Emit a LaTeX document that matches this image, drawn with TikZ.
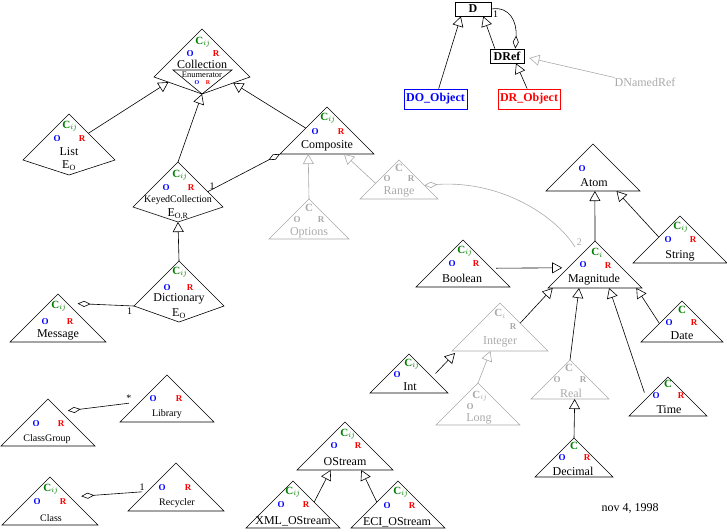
\documentclass[tikz,border=0pt]{standalone}
\usepackage{fontspec}
\setmainfont{Liberation Serif}
\usetikzlibrary{arrows.meta, calc}
\definecolor{cgreen}{RGB}{0,128,0}
\definecolor{oblue}{RGB}{0,0,255}
\definecolor{rred}{RGB}{255,0,0}
\definecolor{ghostgray}{RGB}{170,170,170}
\tikzset{
  tri/.style={draw=black, line width=0.6pt},
  gtri/.style={draw=ghostgray, line width=0.6pt},
  cname/.style={inner sep=0pt, font=\fontsize{12}{12}\selectfont},
  sname/.style={inner sep=0pt, font=\fontsize{10}{10}\selectfont},
  tname/.style={inner sep=0pt, font=\fontsize{8.5}{8.5}\selectfont},
  cmark/.style={inner sep=0pt, text=cgreen, font=\fontsize{11}{11}\selectfont\bfseries},
  omark/.style={inner sep=0pt, text=oblue, font=\fontsize{9}{9}\selectfont\bfseries},
  rmark/.style={inner sep=0pt, text=rred, font=\fontsize{9}{9}\selectfont\bfseries},
  faded/.style={text=ghostgray},
  objbox/.style={rectangle, draw, line width=0.8pt, inner sep=0pt,
    minimum height=14, font=\fontsize{12}{12}\selectfont\bfseries},
  inherit/.style={-{Triangle[open, length=10pt, width=11pt]}, line width=0.6pt},
  aggr/.style={{Diamond[open, length=13pt, width=6pt]}-, line width=0.6pt},
  aggrend/.style={-{Diamond[open, length=13pt, width=6pt]}, line width=0.6pt},
  mult/.style={inner sep=1.5pt, font=\fontsize{10}{10}\selectfont}
}
% class triangle: style, name, apex x, apex y, size
\newcommand{\clstri}[5][tri]{\draw[#1] (#3,#4) coordinate (#2-top) -- ++(-#5,#5) coordinate (#2-lft) -- ++(2*#5,0) coordinate (#2-rgt) -- cycle;}
% class kite (triangle with a keyed bottom): style, name, apex x, apex y, size, drop
\newcommand{\clskite}[6][tri]{\draw[#1] (#3,#4) coordinate (#2-top) -- ++(-#5,#5) coordinate (#2-lft) -- ++(#5,#6) coordinate (#2-bot) -- ++(#5,-#6) coordinate (#2-rgt) -- cycle;}
\newcommand{\Cij}{C$_{ij}$}
\newcommand{\Ci}{C$_{i}$}

\begin{document}
\begin{tikzpicture}[x=1pt, y=-1pt]
  \useasboundingbox (0,0) rectangle (727,531);

  % Collection
  \clskite{coll}{202}{29}{48}{17}
  \draw[tri] (173,70) coordinate (enum-lft) -- (232,70) coordinate (enum-rgt) -- (coll-bot) -- cycle;
  \node[cmark] (coll-c) at (203,42) {\Cij};
  \node[omark] (coll-o) at (190,54) {O};
  \node[rmark] (coll-r) at (216,54) {R};
  \node[cname] (coll) at (202,64) {Collection};
  \node[tname] (enum) at (202,75) {Enumerator};
  \node[omark, font=\fontsize{6}{6}\selectfont\bfseries] (enum-o) at (197,82.5) {O};
  \node[rmark, font=\fontsize{6}{6}\selectfont\bfseries] (enum-r) at (208,82.5) {R};

  % List
  \clskite{list}{69}{114}{46}{15}
  \node[cmark] (list-c) at (70,126) {\Cij};
  \node[omark] (list-o) at (57,139) {O};
  \node[rmark] (list-r) at (82,139) {R};
  \node[cname] (list) at (69,152) {List};
  \node[cname] (list-e) at (69,166) {E\textsubscript{O}};

  % KeyedCollection
  \clskite{kc}{178}{162}{45}{15}
  \node[cmark] (kc-c) at (180,175) {\Cij};
  \node[omark] (kc-o) at (166,188) {O};
  \node[rmark] (kc-r) at (191,188) {R};
  \node[sname] (kc) at (178,200) {KeyedCollection};
  \node[cname] (kc-e) at (178,214) {E\textsubscript{O,R}};

  % Dictionary
  \clskite{dict}{179}{261}{45}{16}
  \node[cmark] (dict-c) at (180,272) {\Cij};
  \node[omark] (dict-o) at (167,288) {O};
  \node[rmark] (dict-r) at (190,288) {R};
  \node[cname] (dict) at (179,299) {Dictionary};
  \node[cname] (dict-e) at (179,314) {E\textsubscript{O}};

  % Composite, Options, Range
  \clstri{comp}{327}{107}{47}
  \node[cmark] (comp-c) at (328,118) {\Cij};
  \node[omark] (comp-o) at (315,132) {O};
  \node[rmark] (comp-r) at (341,132) {R};
  \node[cname] (comp) at (327,146) {Composite};

  \clstri[gtri]{opt}{309}{199}{40}
  \node[cmark, faded] (opt-c) at (309,208) {C};
  \node[omark, faded] (opt-o) at (297,220) {O};
  \node[rmark, faded] (opt-r) at (321,220) {R};
  \node[cname, faded] (opt) at (309,233) {Options};

  \clstri[gtri]{rng}{399}{160}{39}
  \node[cmark, faded] (rng-c) at (399,168) {C};
  \node[omark, faded] (rng-o) at (387,179) {O};
  \node[rmark, faded] (rng-r) at (411,179) {R};
  \node[cname, faded] (rng) at (399,192) {Range};

  % Message
  \clstri{msg}{58}{294}{48}
  \node[cmark] (msg-c) at (59,306) {\Cij};
  \node[omark] (msg-o) at (45,322) {O};
  \node[rmark] (msg-r) at (70,322) {R};
  \node[cname] (msg) at (58,335) {Message};

  % ClassGroup, Library, Class, Recycler
  \clstri{cg}{48}{399}{47}
  \node[omark] (cg-o) at (36,424) {O};
  \node[rmark] (cg-r) at (61,424) {R};
  \node[sname] (cg) at (47,439) {ClassGroup};

  \clstri{lib}{167}{375}{47}
  \node[omark] (lib-o) at (153,399) {O};
  \node[rmark] (lib-r) at (179,399) {R};
  \node[sname] (lib) at (167,414) {Library};

  \clstri{class}{50}{477}{48}
  \node[cmark] (class-c) at (51,489) {\Cij};
  \node[omark] (class-o) at (37,502) {O};
  \node[rmark] (class-r) at (63,502) {R};
  \node[sname] (class) at (51,518) {Class};

  \clstri{rec}{176}{463}{48}
  \node[omark] (rec-o) at (162,488) {O};
  \node[rmark] (rec-r) at (188,488) {R};
  \node[sname] (rec) at (177,503) {Recycler};

  % OStream
  \clstri{os}{345}{422}{48}
  \node[cmark] (os-c) at (348,434) {\Cij};
  \node[omark] (os-o) at (334,446) {O};
  \node[rmark] (os-r) at (358,446) {R};
  \node[cname] (os) at (345,462) {OStream};

  \clstri{xml}{293}{481}{47}
  \node[cmark] (xml-c) at (293,492) {\Cij};
  \node[omark] (xml-o) at (281,505) {O};
  \node[rmark] (xml-r) at (306,505) {R};
  \node[cname] (xml) at (293,521) {XML\_OStream};

  \clstri{eci}{398}{481}{47}
  \node[cmark] (eci-c) at (401,492) {\Cij};
  \node[omark] (eci-o) at (387,506) {O};
  \node[rmark] (eci-r) at (412,506) {R};
  \node[cname] (eci) at (397,522) {ECI\_OStream};

  % Magnitude family
  \clstri{atom}{593}{144}{47}
  \node[omark] (atom-o) at (582,169) {O};
  \node[cname] (atom) at (594,183) {Atom};

  \clstri{mag}{595}{241}{47}
  \node[cmark] (mag-c) at (597,253) {\Ci};
  \node[omark] (mag-o) at (583,265) {O};
  \node[rmark] (mag-r) at (608,266) {R};
  \node[cname] (mag) at (594,280) {Magnitude};

  \clstri{str}{680}{216}{47}
  \node[cmark] (str-c) at (681,227) {\Cij};
  \node[omark] (str-o) at (668,240) {O};
  \node[rmark] (str-r) at (693,240) {R};
  \node[cname] (str) at (680,256) {String};

  \clstri{bool}{463}{240}{47}
  \node[cmark] (bool-c) at (465,251) {\Cij};
  \node[omark] (bool-o) at (452,264) {O};
  \node[rmark] (bool-r) at (476,264) {R};
  \node[cname] (bool) at (462,278) {Boolean};

  \clstri{int}{409}{354}{39}
  \node[cmark] (int-c) at (412,364) {\Cij};
  \node[omark] (int-o) at (397,375) {O};
  \node[cname] (int) at (410,387) {Int};

  \clstri[gtri]{intg}{500}{303}{48}
  \node[cmark, faded] (intg-c) at (500,314) {\Ci};
  \node[rmark, faded] (intg-r) at (513,327) {R};
  \node[cname, faded] (intg) at (500,342) {Integer};

  \clstri[gtri]{long}{478}{383}{42}
  \node[cmark, faded] (long-c) at (480,396) {\Cij};
  \node[omark, faded] (long-o) at (470,407) {O};
  \node[cname, faded] (long) at (479,419) {Long};

  \clstri[gtri]{real}{570}{360}{39}
  \node[cmark, faded] (real-c) at (569,368) {C};
  \node[omark, faded] (real-o) at (557,380) {O};
  \node[rmark, faded] (real-r) at (583,380) {R};
  \node[cname, faded] (real) at (571,393) {Real};

  \clstri{time}{668}{377}{39}
  \node[cmark] (time-c) at (668,384) {C};
  \node[omark] (time-o) at (656,396) {O};
  \node[rmark] (time-r) at (681,396) {R};
  \node[cname] (time) at (669,410) {Time};

  \clstri{date}{682}{301}{41}
  \node[cmark] (date-c) at (682,310) {C};
  \node[omark] (date-o) at (669,323) {O};
  \node[rmark] (date-r) at (694,323) {R};
  \node[cname] (date) at (682,336) {Date};

  \clstri{dec}{574}{438}{39}
  \node[cmark] (dec-c) at (574,446) {C};
  \node[omark] (dec-o) at (562,458) {O};
  \node[rmark] (dec-r) at (587,458) {R};
  \node[cname] (dec) at (573,471) {Decimal};

  % D classes
  \node[objbox, minimum width=36] (d) at (473,9) {D};
  \node[objbox, minimum width=34] (dref) at (507,56) {DRef};
  \node[objbox, draw=oblue, text=oblue, minimum width=63, minimum height=20] (dobj) at (435.5,99) {DO\_Object};
  \node[objbox, draw=rred, text=rred, minimum width=62, minimum height=20] (drobj) at (529,99) {DR\_Object};
  \node[cname, faded] (dnref) at (645,82) {DNamedRef};

  \node[cname] (date-note) at (630,508) {nov 4, 1998};

  % Connections
  \draw[inherit] ($(list-top)!.42!(list-rgt)$) -- ($(coll-lft)!.3!(coll-bot)$);
  \draw[inherit] (kc-top) -- (coll-bot);
  \draw[inherit] ($(comp-top)!.45!(comp-lft)$) -- ($(coll-rgt)!.35!(coll-bot)$);
  \draw[aggr] (comp-lft) -- ($(kc-top)!.66!(kc-rgt)$) node[mult, pos=1, anchor=south west] {1};
  \draw[inherit, draw=ghostgray] (opt-top) -- ($(comp-lft)!.3!(comp-rgt)$);
  \draw[inherit, draw=ghostgray] ($(rng-top)!.6!(rng-lft)$) -- ($(comp-lft)!.68!(comp-rgt)$);
  \draw[inherit] (dict-top) -- (kc-bot);
  \draw[aggr] ($(msg-top)!.2!(msg-rgt)+(10,0)$) -- (dict-lft) node[mult, pos=1, anchor=north east] {1};
  \draw[aggr] ($(cg-top)!.25!(cg-rgt)+(8,0)$) -- ($(lib-top)!.6!(lib-lft)+(-10,0)$) node[mult, pos=1, anchor=south] {*};
  \draw[aggr] ($(class-top)!.4!(class-rgt)+(12,0)$) -- ($(rec-top)!.6!(rec-lft)+(-5,0)$) node[mult, pos=1, anchor=south] {1};
  \draw[inherit] ($(xml-top)!.45!(xml-rgt)$) -- ($(os-lft)!.35!(os-rgt)$);
  \draw[inherit] ($(eci-top)!.45!(eci-lft)$) -- ($(os-lft)!.67!(os-rgt)$);

  \draw[inherit] (mag-top) -- ($(atom-lft)!.52!(atom-rgt)$);
  \draw[inherit] ($(str-top)!.45!(str-lft)$) -- ($(atom-lft)!.75!(atom-rgt)$);
  \draw[inherit] ($(bool-top)!.6!(bool-rgt)+(5,0)$) -- ($(mag-top)!.57!(mag-lft)+(-6,0)$);
  \draw[inherit] ($(int-top)!.5!(int-rgt)+(7,0)$) -- ($(intg-lft)+(3,2)$);
  \draw[inherit, draw=ghostgray] (long-top) -- ($(intg-lft)!.4!(intg-rgt)$);
  \draw[inherit] ($(intg-top)!.42!(intg-rgt)$) -- ($(mag-lft)!.05!(mag-rgt)$);
  \draw[inherit] (real-top) -- ($(mag-lft)!.33!(mag-rgt)$);
  \draw[inherit] ($(time-top)!.4!(time-lft)+(-8,0)$) -- ($(mag-lft)!.65!(mag-rgt)$);
  \draw[inherit] ($(date-top)!.55!(date-lft)$) -- ($(mag-lft)!.94!(mag-rgt)$);
  \draw[inherit] (dec-top) -- ($(real-lft)!.56!(real-rgt)$);
  \draw[aggr, draw=ghostgray] ($(rng-top)!.65!(rng-rgt)$) .. controls (500,180) and (555,215) .. ($(mag-top)+(-20,6)$) node[mult, pos=1, anchor=south west, text=ghostgray] {2};

  \draw[inherit] (dobj) -- ($(d.south west)!.17!(d.south east)$);
  \draw[inherit] ($(dref.north west)!.15!(dref.north east)$) -- ($(d.south west)!.78!(d.south east)$);
  \draw[inherit] ($(drobj.north west)!.47!(drobj.north east)$) -- ($(dref.south west)!.76!(dref.south east)$);
  \draw[inherit, draw=ghostgray] (dnref.north west) -- ($(dref.east)+(5,2)$);
  \draw[aggrend] (d.east) .. controls (510,6) and (517,22) .. ($(dref.north west)!.74!(dref.north east)$) node[mult, pos=0, anchor=north west] {1};
\end{tikzpicture}
\end{document}
